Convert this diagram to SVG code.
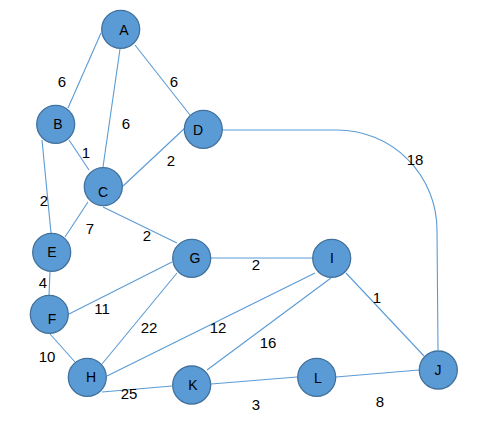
<svg xmlns="http://www.w3.org/2000/svg" width="503" height="437" viewBox="0 0 503 437">
<style>
.n{fill:#5B9BD5;stroke:#41719C;stroke-width:1.3}
.e{fill:none;stroke:#5B9BD5;stroke-width:1.1}
.t{font-family:"Liberation Sans",Arial,sans-serif;font-size:14px;fill:#000;text-anchor:middle}
.w{font-family:"Liberation Sans",Arial,sans-serif;font-size:15px;fill:#000;text-anchor:middle}
</style>
<rect width="503" height="437" fill="#fff"/>
<g id="edges">
<line class="e" x1="101" y1="33" x2="68" y2="108"/>
<line class="e" x1="120" y1="49" x2="103" y2="167"/>
<line class="e" x1="135" y1="45" x2="190" y2="115"/>
<line class="e" x1="69" y1="140" x2="89" y2="170"/>
<line class="e" x1="42" y1="140" x2="51" y2="233"/>
<line class="e" x1="123" y1="186" x2="185" y2="128"/>
<line class="e" x1="88" y1="202" x2="65" y2="237"/>
<line class="e" x1="103" y1="207" x2="177" y2="243"/>
<path class="e" d="M223 130 L337 130 A100 100 0 0 1 437 230 L438 350"/>
<line class="e" x1="211" y1="258" x2="312" y2="258"/>
<line class="e" x1="50" y1="272" x2="49" y2="295"/>
<line class="e" x1="69" y1="314" x2="172" y2="262"/>
<line class="e" x1="50" y1="334" x2="75" y2="362"/>
<line class="e" x1="177" y1="273" x2="102" y2="364"/>
<line class="e" x1="107" y1="376" x2="315" y2="273"/>
<line class="e" x1="102" y1="392" x2="172" y2="386"/>
<line class="e" x1="207" y1="370" x2="331" y2="278"/>
<line class="e" x1="211" y1="384" x2="297" y2="377"/>
<line class="e" x1="336" y1="377" x2="419" y2="370"/>
<line class="e" x1="346" y1="273" x2="424" y2="356"/>
</g>
<g id="weights">
<text class="w" x="62" y="87">6</text>
<text class="w" x="126" y="129">6</text>
<text class="w" x="174" y="87">6</text>
<text class="w" x="86" y="158">1</text>
<text class="w" x="171" y="166">2</text>
<text class="w" x="44" y="206">2</text>
<text class="w" x="90" y="234">7</text>
<text class="w" x="147" y="241">2</text>
<text class="w" x="415" y="165">18</text>
<text class="w" x="256" y="270">2</text>
<text class="w" x="43" y="288">4</text>
<text class="w" x="102" y="314">11</text>
<text class="w" x="149" y="333">22</text>
<text class="w" x="218" y="333">12</text>
<text class="w" x="47" y="362">10</text>
<text class="w" x="268" y="348">16</text>
<text class="w" x="377" y="303">1</text>
<text class="w" x="129" y="399">25</text>
<text class="w" x="256" y="410">3</text>
<text class="w" x="380" y="407">8</text>
</g>
<g id="A"><circle class="n" cx="120.7" cy="29.3" r="19"/><text class="t" x="124" y="34.5">A</text></g>
<g id="B"><circle class="n" cx="55.7" cy="124.3" r="19"/><text class="t" x="58" y="129">B</text></g>
<g id="C"><circle class="n" cx="103.3" cy="186.7" r="19"/><text class="t" x="103" y="197">C</text></g>
<g id="D"><circle class="n" cx="203.3" cy="129.3" r="19"/><text class="t" x="198" y="135">D</text></g>
<g id="E"><circle class="n" cx="51.7" cy="252.3" r="19"/><text class="t" x="52" y="257">E</text></g>
<g id="G"><circle class="n" cx="191.7" cy="258.3" r="19"/><text class="t" x="195" y="263">G</text></g>
<g id="F"><circle class="n" cx="49.3" cy="314.3" r="19"/><text class="t" x="52" y="324">F</text></g>
<g id="H"><circle class="n" cx="87.3" cy="377.3" r="19"/><text class="t" x="91" y="382">H</text></g>
<g id="K"><circle class="n" cx="191.7" cy="385" r="19"/><text class="t" x="193" y="390">K</text></g>
<g id="I"><circle class="n" cx="331.7" cy="258.3" r="19"/><text class="t" x="332" y="263">I</text></g>
<g id="L"><circle class="n" cx="316.7" cy="377.3" r="19"/><text class="t" x="318" y="383">L</text></g>
<g id="J"><circle class="n" cx="438.3" cy="370" r="19"/><text class="t" x="438" y="375">J</text></g>
</svg>
